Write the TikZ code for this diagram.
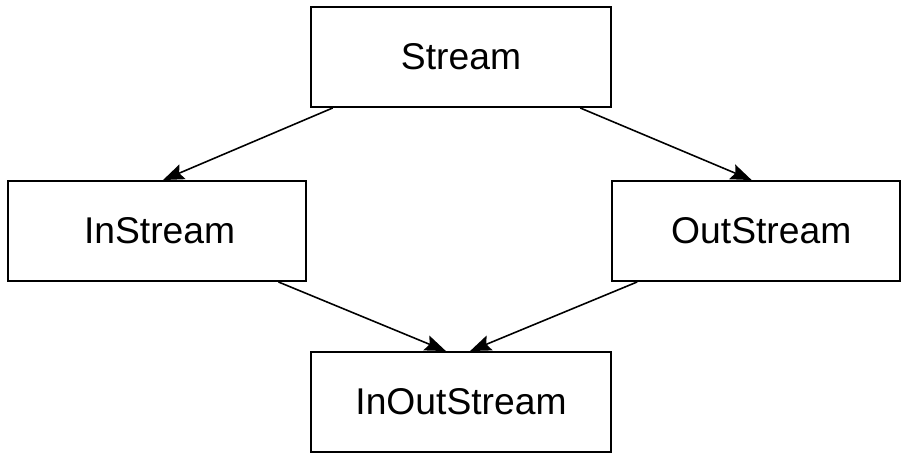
\documentclass[tikz,border=0pt]{standalone}
\usepackage{fontspec}
\setmainfont{Liberation Sans}
\usetikzlibrary{arrows.meta,calc}

\begin{document}
\begin{tikzpicture}[
  x=0.02cm, y=-0.02cm,
  font=\fontsize{21.2}{25}\selectfont,
  box/.style={draw, line width=1.1pt, inner sep=0pt, minimum height=2cm},
  arr/.style={-{Stealth[length=12pt,width=9pt,inset=2pt]}, line width=0.9pt}
]
\useasboundingbox (0,0) rectangle (905,458);
\node[box, minimum width=6cm]    (stream) at (461,57)  {Stream};
\node[box, minimum width=5.96cm, text width=5.96cm, align=center] (in) at (157,231) {\hspace*{3pt}InStream};
\node[box, minimum width=5.76cm, text width=5.76cm, align=center] (out) at (756,231) {\hspace*{6pt}OutStream};
\node[box, minimum width=6cm]    (inout)  at (461,402) {InOutStream};
% inheritance
\draw[arr] ($(stream.south west)!0.075!(stream.south east)$) -- ($(in.north west)!0.52!(in.north east)$);
\draw[arr] ($(stream.south west)!0.895!(stream.south east)$) -- ($(out.north west)!0.485!(out.north east)$);
\draw[arr] ($(in.south west)!0.905!(in.south east)$) -- ($(inout.north west)!0.45!(inout.north east)$);
\draw[arr] ($(out.south west)!0.09!(out.south east)$) -- ($(inout.north west)!0.53!(inout.north east)$);
\end{tikzpicture}
\end{document}
